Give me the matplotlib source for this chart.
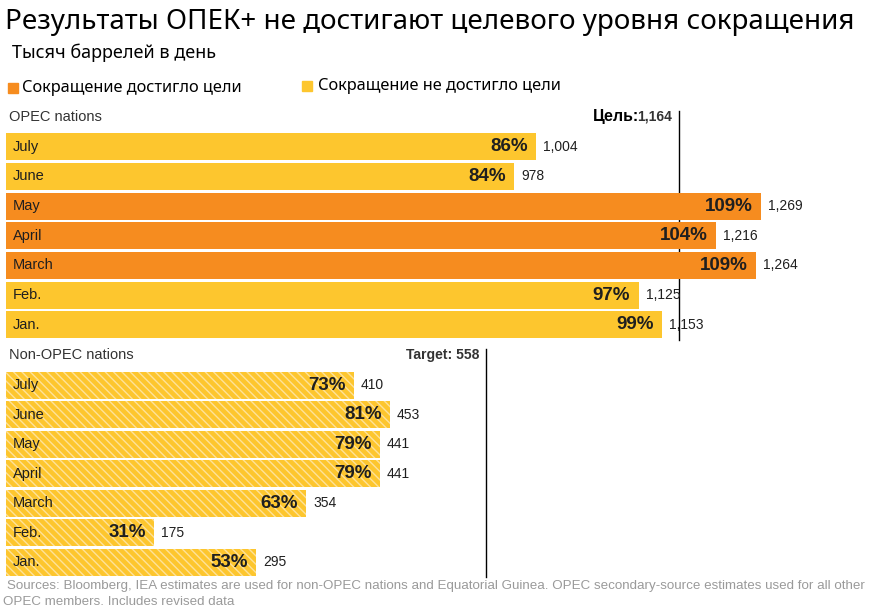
import matplotlib.pyplot as plt
from matplotlib.patches import Rectangle
from matplotlib.transforms import ScaledTranslation

# data (thousand barrels per day)
months = ["July", "June", "May", "April", "March", "Feb.", "Jan."]
opec_vals = [1004, 978, 1269, 1216, 1264, 1125, 1153]
opec_pct = [86, 84, 109, 104, 109, 97, 99]
opec_target = 1164
nonopec_vals = [410, 453, 441, 441, 354, 175, 295]
nonopec_pct = [73, 81, 79, 79, 63, 31, 53]
nonopec_target = 558

ORANGE = "#F68C1F"
YELLOW = "#FDC62E"
HATCH = "#FDE29A"
DARK = "#1f1f1f"
RU_FONT = ["Noto Sans", "DejaVu Sans"]
EN_FONT = ["Liberation Sans", "DejaVu Sans"]

W, H = 871, 611
fig = plt.figure(figsize=(W / 100, H / 100), dpi=100)


def px_axes(left, top, width, height):
    return fig.add_axes([left / W, 1 - (top + height) / H, width / W, height / H])


# same pixel scale for both panels, OPEC axis does not start at zero
scale = 0.848  # px per unit
axw = 854
ax1 = px_axes(6, 132, axw, 207.5)
ax2 = px_axes(6, 370.5, axw, 206.5)
ax1.set_xlim(379, 379 + axw / scale)
ax2.set_xlim(0, axw / scale)

# the target rule sits a few px right of its value in the original
line_shift = ScaledTranslation(7 / 100, 0, fig.dpi_scale_trans)

for ax, vals, pct, target, label, hatched in [
    (ax1, opec_vals, opec_pct, opec_target, "OPEC nations", False),
    (ax2, nonopec_vals, nonopec_pct, nonopec_target, "Non-OPEC nations", True),
]:
    ax.set_ylim(6.5, -0.5)
    ax.axis("off")
    for i, v in enumerate(vals):
        if hatched:
            ax.barh(i, v, height=0.91, color=YELLOW, edgecolor=HATCH, linewidth=0,
                    hatch="\\\\\\\\", zorder=2)
        else:
            color = ORANGE if v >= target else YELLOW
            ax.barh(i, v, height=0.91, color=color, linewidth=0, zorder=2)
        ax.annotate(months[i], xy=(0, i), xycoords=("axes fraction", "data"),
                    xytext=(5, 0), textcoords="offset points", ha="left", va="center",
                    fontsize=10.5, color=DARK, family=EN_FONT, zorder=3)
        ax.annotate(f"{pct[i]}%", xy=(v, i), xytext=(-6, 0), textcoords="offset points",
                    ha="right", va="center", fontsize=13.5, fontweight="bold",
                    color=DARK, family=EN_FONT, zorder=3)
        ax.annotate(f"{v:,}", xy=(v, i), xytext=(5, 0), textcoords="offset points",
                    ha="left", va="center", fontsize=10, color=DARK, family=EN_FONT,
                    zorder=3)
    # target line
    ax.plot([target, target], [-1.22, 6.5], color="black", lw=1, clip_on=False,
            zorder=1, transform=ax.transData + line_shift)
    ax.annotate(label, xy=(0, -1.02), xycoords=("axes fraction", "data"),
                xytext=(2, 0), textcoords="offset points", ha="left", va="center",
                fontsize=10.5, color="#333333", family=EN_FONT, annotation_clip=False)

# OPEC target label (mixed)
t1 = ax1.annotate(f"{opec_target:,}", xy=(opec_target, -1.02), xytext=(0, 0),
                  textcoords="offset points", ha="right", va="center", fontsize=10,
                  fontweight="bold", color="#333333", family=EN_FONT, annotation_clip=False)
ax1.annotate("Цель:", xy=(0, 0.5), xycoords=t1, xytext=(1.5, 0),
             textcoords="offset points", ha="right", va="center",
             fontsize=11.5, fontweight="bold", color="black", family=EN_FONT)
ax2.annotate(f"Target: {nonopec_target}", xy=(nonopec_target, -1.02), xytext=(0, 0),
             textcoords="offset points", ha="right", va="center", fontsize=10,
             fontweight="bold", color="#333333", family=EN_FONT, annotation_clip=False)

# title, subtitle, legend
fig.text(5 / W, 1 - 22 / H, "Результаты ОПЕК+ не достигают целевого уровня сокращения",
         fontsize=20, family=RU_FONT, color="black", va="center", ha="left")
fig.text(12 / W, 1 - 53 / H, "Тысяч баррелей в день", fontsize=13, family=RU_FONT,
         color="black", va="center", ha="left")
fig.patches.append(Rectangle((8 / W, 1 - 93 / H), 10 / W, 10 / H, color=ORANGE,
                             transform=fig.transFigure))
fig.text(22 / W, 1 - 88 / H, "Сокращение достигло цели", fontsize=11.8, family=RU_FONT,
         color="black", va="center", ha="left")
fig.patches.append(Rectangle((302 / W, 1 - 91 / H), 10 / W, 10 / H, color=YELLOW,
                             transform=fig.transFigure))
fig.text(318 / W, 1 - 86 / H, "Сокращение не достигло цели", fontsize=11.8, family=RU_FONT,
         color="black", va="center", ha="left")

# footer
fig.text(7 / W, 1 - 586 / H,
         "Sources: Bloomberg, IEA estimates are used for non-OPEC nations and Equatorial Guinea. "
         "OPEC secondary-source estimates used for all other",
         fontsize=9.6, family=EN_FONT, color="#9a9a9a", va="center", ha="left")
fig.text(3 / W, 1 - 602 / H, "OPEC members. Includes revised data",
         fontsize=9.6, family=EN_FONT, color="#9a9a9a", va="center", ha="left")

fig.savefig("out.png", dpi=100, facecolor="white")
